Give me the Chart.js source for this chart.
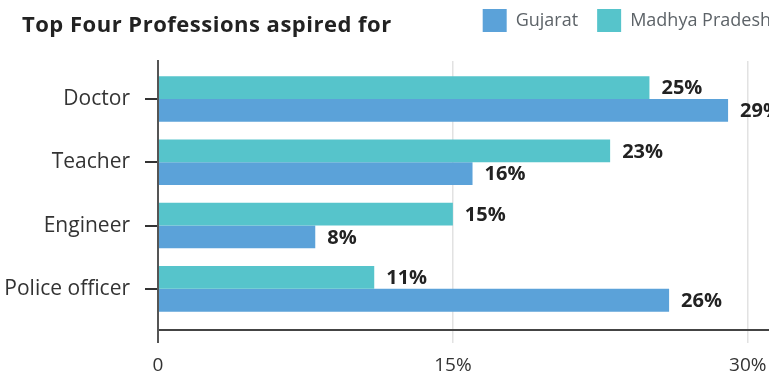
<!DOCTYPE html>
<html>
<head>
<meta charset="utf-8">
<script src="https://cdn.jsdelivr.net/npm/chart.js@4.4.1/dist/chart.umd.min.js"></script>
<style>
    html, body { margin: 0; padding: 0; background: #fff; overflow: hidden; }
    .wrap { position: relative; width: 790px; height: 372px; }
    .chart-title {
        position: absolute; left: 22px; top: 13px; margin: 0;
        font: bold 22px/21px "Open Sans", sans-serif; color: #222;
        letter-spacing: 0.5px; white-space: nowrap;
    }
</style>
</head>
<body>
<div class="wrap">
    <h2 class="chart-title">Top Four Professions aspired for</h2>
    <canvas id="chartProfessions"></canvas>
</div>
<script>
const professions = ['Doctor', 'Teacher', 'Engineer', 'Police officer'];
const gujarat = [29, 16, 8, 26];
const madhyaPradesh = [25, 23, 15, 11];
const xTicks = [0, 15, 30];

Chart.defaults.font.family = '"Open Sans", sans-serif';

function toPoints(values) {
    return values.map((value, index) => ({x: value, y: index}));
}

// percentage printed just past the end of each bar
const valueLabels = {
    id: 'valueLabels',
    afterDatasetsDraw(chart) {
        const ctx = chart.ctx;
        ctx.save();
        ctx.font = 'bold 20px "Open Sans", sans-serif';
        ctx.fillStyle = '#222';
        ctx.textBaseline = 'middle';
        chart.data.datasets.forEach((dataset, di) => {
            chart.getDatasetMeta(di).data.forEach((bar, i) => {
                ctx.fillText(dataset.data[i].x + '%', bar.x + 12, bar.y + 1);
            });
        });
        ctx.restore();
    }
};

// leave some room between the legend row and the plot
const legendGap = {
    id: 'legendGap',
    beforeInit(chart) {
        const fit = chart.legend.fit;
        chart.legend.fit = function () {
            fit.bind(chart.legend)();
            this.height += 19;
        };
    }
};

new Chart(document.getElementById('chartProfessions').getContext('2d'), {
    type: 'bar',
    data: {
        datasets: [
            {
                label: 'Madhya Pradesh',
                data: toPoints(madhyaPradesh),
                backgroundColor: '#56c4cb'
            },
            {
                label: 'Gujarat',
                data: toPoints(gujarat),
                backgroundColor: '#5ba2d9'
            }
        ]
    },
    options: {
        indexAxis: 'y',
        responsive: true,
        maintainAspectRatio: false,
        animation: false,
        categoryPercentage: 0.72,
        barPercentage: 1,
        layout: {padding: {top: -10, left: 0, right: 0, bottom: 0}},
        scales: {
            x: {
                type: 'linear',
                min: 0,
                max: 32.15,
                afterBuildTicks: scale => {
                    scale.ticks = xTicks.map(value => ({value}));
                },
                afterFit: scale => {
                    scale.height = 42;
                },
                ticks: {
                    callback: value => value === 0 ? '0' : value + '%',
                    color: '#333',
                    font: {size: 19},
                    padding: 11,
                    maxRotation: 0
                },
                grid: {
                    color: ctx => ctx.tick && ctx.tick.value === 0 ? '#555' : '#e2e2e2',
                    lineWidth: ctx => ctx.tick && ctx.tick.value === 0 ? 2 : 1.5,
                    tickLength: 13
                },
                border: {display: true, color: '#444', width: 2}
            },
            y: {
                type: 'linear',
                reverse: true,
                offset: false,
                min: -0.6,
                max: 3.65,
                afterBuildTicks: scale => {
                    scale.ticks = professions.map((name, i) => ({value: i}));
                },
                afterFit: scale => {
                    scale.width = 158;
                },
                ticks: {
                    callback: value => professions[value],
                    color: '#333',
                    font: {size: 21},
                    padding: 15
                },
                grid: {
                    offset: false,
                    drawOnChartArea: false,
                    color: '#333',
                    lineWidth: 2,
                    tickLength: 13
                },
                border: {display: true, color: '#555', width: 2}
            }
        },
        plugins: {
            legend: {
                position: 'top',
                align: 'end',
                reverse: true,
                labels: {
                    boxWidth: 24,
                    boxHeight: 23,
                    padding: 19,
                    color: '#5d6368',
                    font: {size: 18}
                }
            },
            tooltip: {enabled: false}
        }
    },
    plugins: [valueLabels, legendGap]
});
</script>
</body>
</html>
